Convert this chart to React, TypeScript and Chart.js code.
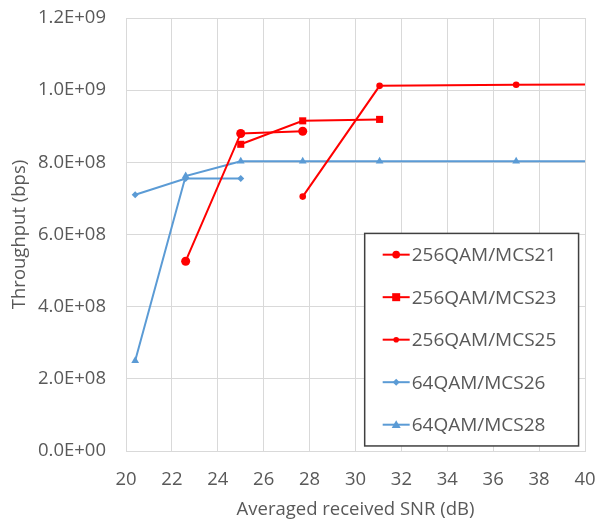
import React, { useEffect, useRef } from "react";
import { Chart, registerables } from "chart.js";

Chart.register(...registerables);

// ---- data ----
const seriesNames = ["256QAM/MCS21", "256QAM/MCS23", "256QAM/MCS25", "64QAM/MCS26", "64QAM/MCS28"];

const snrMcs21 = [22.6, 25.0, 27.7];
const tpMcs21 = [5.26e8, 8.8e8, 8.86e8];

const snrMcs23 = [25.0, 27.7, 31.05];
const tpMcs23 = [8.5e8, 9.15e8, 9.19e8];

const snrMcs25 = [27.7, 31.05, 37.0, 43.0];
const tpMcs25 = [7.05e8, 1.012e9, 1.015e9, 1.017e9];

const snrMcs26 = [20.4, 22.6, 25.0];
const tpMcs26 = [7.1e8, 7.55e8, 7.55e8];

const snrMcs28 = [20.4, 22.6, 25.0, 27.7, 31.05, 37.0, 43.0];
const tpMcs28 = [2.5e8, 7.62e8, 8.03e8, 8.03e8, 8.03e8, 8.03e8, 8.03e8];

const xTicks = [20, 22, 24, 26, 28, 30, 32, 34, 36, 38, 40];
const yTicks = [0, 2e8, 4e8, 6e8, 8e8, 1e9, 1.2e9];

const xTitle = "Averaged received SNR (dB)";
const yTitle = "Throughput (bps)";

const RED = "#FF0000";
const BLUE = "#5B9BD5";
const FONT = "'Open Sans', sans-serif";
const TEXT = "#595959";

const toPts = (xs: number[], ys: number[]) => xs.map((x, i) => ({ x, y: ys[i] }));

const fmtSci = (v: number) => {
  if (v === 0) return "0.0E+00";
  const e = Math.floor(Math.log10(v) + 1e-9);
  const m = v / Math.pow(10, e);
  return m.toFixed(1) + "E+" + String(e).padStart(2, "0");
};

const legendBoxPlugin = {
  id: "legendBox",
  afterDraw(chart: any) {
    const { ctx, scales } = chart;
    const xs = scales.x;
    const ys = scales.y;
    const left = xs.getPixelForValue(30.4);
    const right = xs.getPixelForValue(39.72);
    const top = ys.getPixelForValue(6.03e8);
    const bottom = ys.getPixelForValue(0.14e8);
    ctx.save();
    ctx.fillStyle = "#ffffff";
    ctx.fillRect(left, top, right - left, bottom - top);
    ctx.strokeStyle = "#404040";
    ctx.lineWidth = 1.5;
    ctx.strokeRect(left, top, right - left, bottom - top);
    const n = chart.data.datasets.length;
    const rowH = (bottom - top) / n;
    chart.data.datasets.forEach((ds: any, i: number) => {
      const cy = top + rowH * (i + 0.5);
      const lx0 = left + 18;
      const lx1 = left + 45;
      ctx.strokeStyle = ds.borderColor;
      ctx.lineWidth = 2;
      ctx.beginPath();
      ctx.moveTo(lx0, cy);
      ctx.lineTo(lx1, cy);
      ctx.stroke();
      ctx.fillStyle = ds.borderColor;
      const r = ds.pointRadius;
      const cx = (lx0 + lx1) / 2;
      ctx.beginPath();
      if (ds.pointStyle === "circle") {
        ctx.arc(cx, cy, r * 0.85, 0, Math.PI * 2);
      } else if (ds.pointStyle === "rect") {
        ctx.rect(cx - r * 0.8, cy - r * 0.8, 1.6 * r, 1.6 * r);
      } else if (ds.pointStyle === "rectRot") {
        ctx.moveTo(cx, cy - r);
        ctx.lineTo(cx + r, cy);
        ctx.lineTo(cx, cy + r);
        ctx.lineTo(cx - r, cy);
        ctx.closePath();
      } else if (ds.pointStyle === "triangle") {
        ctx.moveTo(cx, cy - r);
        ctx.lineTo(cx + r, cy + r * 0.75);
        ctx.lineTo(cx - r, cy + r * 0.75);
        ctx.closePath();
      }
      ctx.fill();
      ctx.fillStyle = TEXT;
      ctx.font = `19px ${FONT}`;
      ctx.textBaseline = "middle";
      ctx.textAlign = "left";
      ctx.fillText(ds.label, lx1 + 2, cy + 1);
    });
    ctx.restore();
  },
};

export default function App() {
  const ref = useRef<HTMLCanvasElement | null>(null);

  useEffect(() => {
    document.body.style.margin = "0";
    const canvas = ref.current;
    if (!canvas) return;
    const mk = (i: number, xs: number[], ys: number[], color: string, style: string, r: number) => ({
      label: seriesNames[i],
      data: toPts(xs, ys),
      borderColor: color,
      backgroundColor: color,
      borderWidth: 2,
      pointStyle: style,
      pointRadius: r,
      pointBorderWidth: 0,
      pointHoverRadius: r,
      tension: 0,
      showLine: true,
    });
    const chart = new Chart(canvas, {
      type: "scatter",
      data: {
        datasets: [
          mk(0, snrMcs21, tpMcs21, RED, "circle", 4.5),
          mk(1, snrMcs23, tpMcs23, RED, "rect", 5),
          mk(2, snrMcs25, tpMcs25, RED, "circle", 3.3),
          mk(3, snrMcs26, tpMcs26, BLUE, "rectRot", 3.5),
          mk(4, snrMcs28, tpMcs28, BLUE, "triangle", 4.5),
        ] as any,
      },
      options: {
        animation: false,
        responsive: false,
        maintainAspectRatio: false,
        layout: { padding: { top: 18, right: 19, left: 0, bottom: 0 } },
        plugins: {
          legend: { display: false },
          tooltip: { enabled: false },
        },
        scales: {
          x: {
            type: "linear",
            min: 20,
            max: 40,
            afterFit: (s: any) => {
              s.height = 70;
              s.paddingLeft = 0;
              s.paddingRight = 0;
            },
            afterBuildTicks: (s: any) => {
              s.ticks = xTicks.map((v) => ({ value: v }));
            },
            grid: { color: "#d9d9d9", lineWidth: 1, drawTicks: false },
            border: { color: "#d9d9d9", width: 1 },
            ticks: {
              font: { family: FONT, size: 18.5 },
              color: TEXT,
              padding: 18,
              maxRotation: 0,
              autoSkip: false,
            },
            title: {
              display: true,
              text: xTitle,
              font: { family: FONT, size: 18.5 },
              color: TEXT,
              padding: { top: 0, bottom: 0 },
            },
          },
          y: {
            type: "linear",
            min: 0,
            max: 1.2e9,
            afterFit: (s: any) => {
              s.width = 126;
              s.paddingTop = 0;
              s.paddingBottom = 0;
            },
            afterBuildTicks: (s: any) => {
              s.ticks = yTicks.map((v) => ({ value: v }));
            },
            grid: { color: "#d9d9d9", lineWidth: 1, drawTicks: false },
            border: { color: "#d9d9d9", width: 1 },
            ticks: {
              font: { family: FONT, size: 18.5 },
              color: TEXT,
              padding: 20,
              callback: (v: any) => fmtSci(Number(v)),
            },
            title: {
              display: true,
              text: yTitle,
              font: { family: FONT, size: 18.5 },
              color: TEXT,
              padding: { top: 9, bottom: 0 },
            },
          },
        },
      },
      plugins: [legendBoxPlugin],
    } as any);
    return () => chart.destroy();
  }, []);

  return (
    <div style={{ position: "absolute", left: 0, top: 0, width: 604, height: 521, background: "#fff" }}>
      <canvas ref={ref} width={604} height={521} style={{ width: 604, height: 521, display: "block" }} />
    </div>
  );
}
